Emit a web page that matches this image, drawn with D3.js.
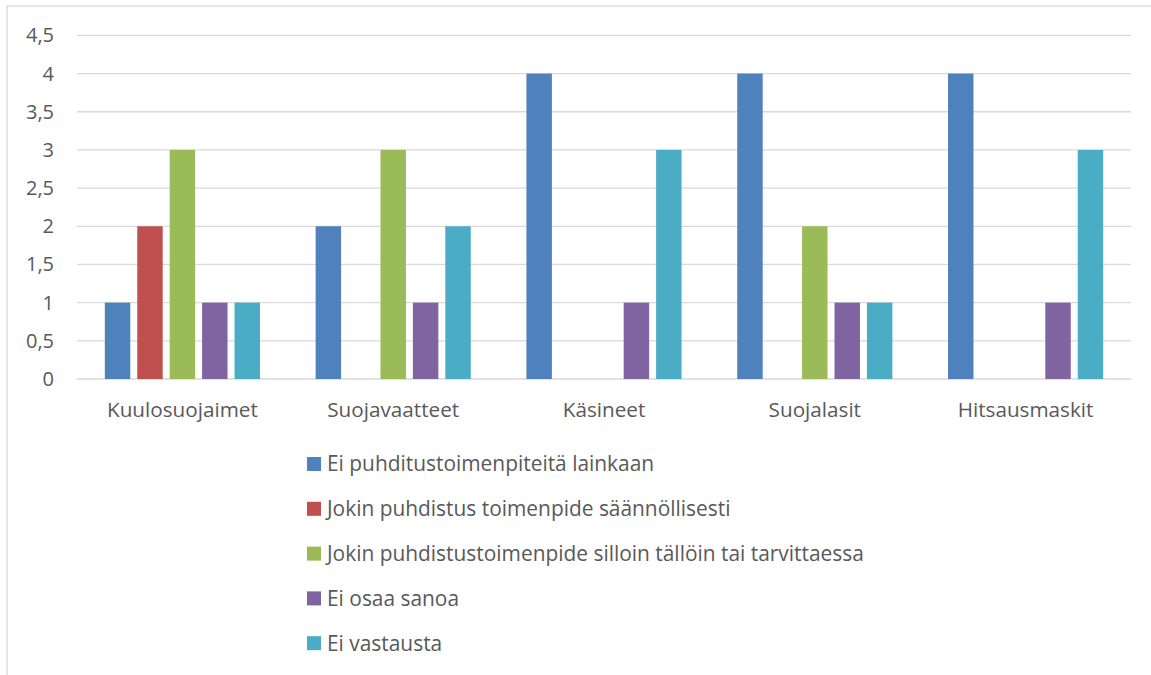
<!DOCTYPE html>
<html>
<head>
<meta charset="utf-8">
<script src="https://cdn.jsdelivr.net/npm/d3@7"></script>
<style>
  body { margin: 0; background: #fff; }
  text { font-family: "Open Sans", sans-serif; fill: #595959; }
</style>
</head>
<body>
<div id="chart"></div>
<script>
var categories = ["Kuulosuojaimet", "Suojavaatteet", "Käsineet", "Suojalasit", "Hitsausmaskit"];
var seriesNames = [
  "Ei puhditustoimenpiteitä lainkaan",
  "Jokin puhdistus toimenpide säännöllisesti",
  "Jokin puhdistustoimenpide silloin tällöin tai tarvittaessa",
  "Ei osaa sanoa",
  "Ei vastausta"
];
var seriesColors = ["#4F81BD", "#C0504D", "#9BBB59", "#8064A2", "#4BACC6"];
var ei_puhd = [1, 2, 4, 4, 4];
var saannoll = [2, 0, 0, 0, 0];
var silloin = [3, 3, 0, 2, 0];
var ei_osaa = [1, 1, 1, 1, 1];
var ei_vast = [1, 2, 3, 1, 3];
var yTicks = [0, 0.5, 1, 1.5, 2, 2.5, 3, 3.5, 4, 4.5];

(function () {
var seriesValues = [ei_puhd, saannoll, silloin, ei_osaa, ei_vast];

var W = 1151, H = 675;
var svg = d3.select("#chart").append("svg").attr("width", W).attr("height", H);

// chart frame
svg.append("rect")
  .attr("x", 7).attr("y", 6).attr("width", W + 10).attr("height", H + 10)
  .attr("fill", "none").attr("stroke", "#D9D9D9").attr("stroke-width", 1.3);

var left = 77, right = 1131, plotTop = 35.4, plotBottom = 379;

var x0 = d3.scaleBand().domain(categories).range([left, right])
  .paddingInner(0.264).paddingOuter(0.132);
var x1 = d3.scaleBand().domain(d3.range(seriesNames.length)).range([0, x0.bandwidth()])
  .paddingInner(0.215);
var y = d3.scaleLinear().domain([0, 4.5]).range([plotBottom, plotTop]);

// gridlines
svg.append("g").selectAll("line").data(yTicks).enter().append("line")
  .attr("x1", left).attr("x2", right)
  .attr("y1", function (d) { return y(d); }).attr("y2", function (d) { return y(d); })
  .attr("stroke", "#D9D9D9").attr("stroke-width", 1.3);

// y labels
svg.append("g").selectAll("text").data(yTicks).enter().append("text")
  .attr("x", 54).attr("y", function (d) { return y(d); })
  .attr("dy", "0.35em").attr("text-anchor", "end")
  .attr("font-size", "20px")
  .text(function (d) { return String(d).replace(".", ","); });

// bars
var groups = svg.append("g").selectAll("g").data(categories).enter().append("g")
  .attr("transform", function (c) { return "translate(" + x0(c) + ",0)"; });

groups.selectAll("rect").data(function (c, ci) {
  return seriesValues.map(function (vals, si) { return { s: si, v: vals[ci] }; });
}).enter().append("rect")
  .attr("x", function (d) { return x1(d.s); })
  .attr("width", x1.bandwidth())
  .attr("y", function (d) { return y(d.v); })
  .attr("height", function (d) { return y(0) - y(d.v); })
  .attr("fill", function (d) { return seriesColors[d.s]; });

// category labels
svg.append("g").selectAll("text").data(categories).enter().append("text")
  .attr("x", function (c) { return x0(c) + x0.bandwidth() / 2; })
  .attr("y", 417)
  .attr("text-anchor", "middle")
  .attr("font-size", "20.7px")
  .text(function (c) { return c; });

// legend
var legend = svg.append("g").selectAll("g").data(seriesNames).enter().append("g")
  .attr("transform", function (d, i) { return "translate(307," + (464 + i * 44.8) + ")"; });
legend.append("rect")
  .attr("x", 0).attr("y", -7).attr("width", 14).attr("height", 14)
  .attr("fill", function (d, i) { return seriesColors[i]; });
legend.append("text")
  .attr("x", 20).attr("y", 0).attr("dy", "0.35em")
  .attr("font-size", "20.9px")
  .text(function (d) { return d; });
})();
</script>
</body>
</html>
